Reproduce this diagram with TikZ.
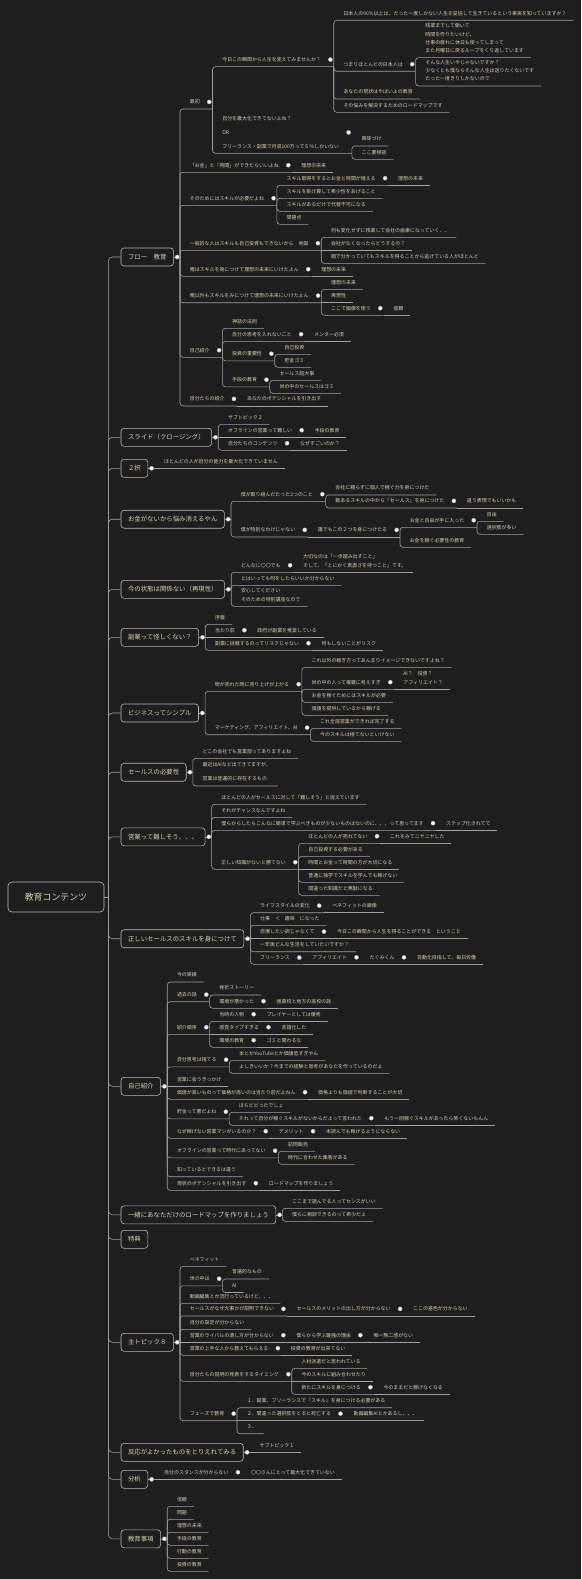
\documentclass[tikz,border=0pt]{standalone}
\usepackage{fontspec}
\setmainfont{Noto Sans CJK JP}
\usetikzlibrary{calc}
\definecolor{bgc}{HTML}{1E1E1F}
\definecolor{lnc}{HTML}{A0A0A0}
\definecolor{txc}{HTML}{D9D0AE}
\definecolor{bxc}{HTML}{B8B8B8}
\definecolor{dtc}{HTML}{EEF2FA}
\tikzset{
  conn/.style={draw=lnc, line width=0.6pt, rounded corners=3pt},
  trunk/.style={draw=lnc, line width=0.6pt, rounded corners=4pt},
  lbl/.style={text=txc, font=\fontsize{4.95}{8.2}\selectfont, inner sep=0pt, align=left, anchor=south west},
  topic/.style={draw=bxc, line width=0.6pt, rounded corners=3pt, text=txc, font=\fontsize{6.4}{8}\selectfont, inner xsep=7pt, inner ysep=0pt, minimum height=18pt, anchor=west},
  rootn/.style={draw=bxc, line width=0.6pt, rounded corners=4pt, text=txc, font=\fontsize{8.9}{10}\selectfont, minimum width=96pt, minimum height=30pt},
  dotm/.style={circle, fill=dtc, draw=lnc, line width=0.3pt, inner sep=0pt, minimum size=4.2pt},
}
% topic box
\newcommand\Tp[3]{\node[topic] (#1) at (120.7,#2) {#3};\draw[trunk] (rootj) |- (#1.west);}
\newcommand\Tj[1]{\coordinate (#1-j) at ($(#1.east)+(6.3,0)$);\draw[conn] (#1.east) -- (#1-j);\node[dotm] (#1-d) at ($(#1.east)+(3.5,0)$) {};}
% text of a child node
\newcommand\tn[4]{\node[lbl] (#1) at ($(#2 |- 0,#3)+(9.6,-4.6)$) {#4};}
% leaf (curved / straight)
\newcommand\lf[4]{\tn{#1}{#2}{#3}{#4}\coordinate (#1-e) at ($(#1.east |- 0,#3)+(6.7,0)$);\draw[conn] (#2) |- (#1-e);}
\newcommand\lfs[4]{\tn{#1}{#2}{#3}{#4}\coordinate (#1-e) at ($(#1.east |- 0,#3)+(6.7,0)$);\draw[conn] (#2) -- (#1-e);}
% branch node (curved / straight)
\newcommand\br[4]{\tn{#1}{#2}{#3}{#4}\coordinate (#1-j) at ($(#1.east |- 0,#3)+(12.6,0)$);\draw[conn] (#2) |- (#1-j);\node[dotm] (#1-d) at ($(#1.east)+(9.3,0)$) {};}
\newcommand\brs[4]{\tn{#1}{#2}{#3}{#4}\coordinate (#1-j) at ($(#1.east |- 0,#3)+(12.6,0)$);\draw[conn] (#2) -- (#1-j);\node[dotm] (#1-d) at ($(#1.east)+(9.3,0)$) {};}
\begin{document}
\begin{tikzpicture}[x=1pt,y=-1pt]
\fill[bgc] (0,0) rectangle (581,1579);
\useasboundingbox (0,0) rectangle (581,1579);
\node[rootn] (root) at (56,897) {教育コンテンツ};
\coordinate (rootj) at (108.3,897);
\draw[conn] (root.east) -- (rootj);

% ---------- フロー 教育
\Tp{fl}{257}{フロー　教育}\Tj{fl}
\br{a1}{fl-j}{109}{最初}
\br{a11}{a1-j}{66.7}{今日この瞬間から人生を変えてみませんか？}
\lf{a111}{a11-j}{20.3}{日本人の90％以上は、たった一度しかない人生を妥協して生きているという事実を知っていますか？}
\br{a112}{a11-j}{71.3}{つまりほとんどの日本人は}
\lf{a1121}{a112-j}{57.7}{残業までして働いて\\時間を作りたいけど、\\仕事の疲れに休日も使ってしまって\\また月曜日に戻るループをくり返しています}
\lf{a1122}{a112-j}{86}{そんな人生いやじゃないですか？\\少なくとも僕ならそんな人生は送りたくないです\\たった一度きりしかないので}
\lf{a113}{a11-j}{99}{あなたの現状はやばいよの教育}
\lf{a114}{a11-j}{112.3}{その悩みを解決するためのロードマップです}
\br{a12}{a1-j}{153.3}{自分を最大化できてないよね？\\[5.6pt]OR\\[5.6pt]フリーランス・副業で月収100万って５％しかいない}
\lf{a121}{a12-j}{146}{興味づけ}
\lf{a122}{a12-j}{159.3}{ここ要相談}
\br{a2}{fl-j}{172.3}{「お金」と「時間」ができたらいいよね}
\lfs{a21}{a2-j}{172.3}{理想の未来}
\br{a3}{fl-j}{205.3}{そのためにはスキルが必要だよね}
\br{a31}{a3-j}{185.3}{スキル取得をするとお金と時間が増える}
\lfs{a311}{a31-j}{185.3}{理想の未来}
\lf{a32}{a3-j}{198.3}{スキルを掛け算して希少性をあげること}
\lf{a33}{a3-j}{211.3}{スキルがあるだけで代替不可になる}
\lf{a34}{a3-j}{224.3}{問題点}
\br{a4}{fl-j}{250.3}{一般的な人はスキルも自己投資もできないから　地獄}
\lf{a41}{a4-j}{237.3}{何も変化せずに残業して会社の歯車になっていく、、}
\lfs{a42}{a4-j}{250.3}{会社がなくなったらどうするの？}
\lf{a43}{a4-j}{263.3}{頭で分かっていてもスキルを得ることから逃げている人がほとんど}
\br{a5}{fl-j}{276.3}{俺はスキルを身につけて理想の未来にいけたよん}
\lfs{a51}{a5-j}{276.3}{理想の未来}
\br{a6}{fl-j}{302.7}{俺以外もスキルをみにつけて理想の未来にいけたよん}
\lf{a61}{a6-j}{289.3}{理想の未来}
\lfs{a62}{a6-j}{302.7}{再現性}
\br{a63}{a6-j}{315.3}{ここで画像を使う}
\lfs{a631}{a63-j}{315.3}{信頼}
\br{a7}{fl-j}{357.3}{自己紹介}
\lf{a71}{a7-j}{328.3}{神話の法則}
\br{a72}{a7-j}{341.3}{自分の思考を入れないこと}
\lfs{a721}{a72-j}{341.3}{メンター必須}
\br{a73}{a7-j}{360.8}{投資の重要性}
\lf{a731}{a73-j}{354.3}{自己投資}
\lf{a732}{a73-j}{367.3}{貯金ゴミ}
\br{a74}{a7-j}{386.8}{手段の教育}
\lf{a741}{a74-j}{380.3}{セールス超大事}
\lf{a742}{a74-j}{393.3}{世の中のセールスはゴミ}
\br{a8}{fl-j}{406}{自分たちの紹介}
\lfs{a81}{a8-j}{406}{あなたのポテンシャルを引き出す}

% ---------- スライド
\Tp{sl}{437.3}{スライド（クロージング）}\Tj{sl}
\lf{b1}{sl-j}{424.3}{サブトピック２}
\brs{b2}{sl-j}{437.3}{オフラインの営業って難しい}
\lfs{b21}{b2-j}{437.3}{手段の教育}
\br{b3}{sl-j}{450.3}{自分たちのコンテンツ}
\lfs{b31}{b3-j}{450.3}{なぜすごいのか？}

% ---------- ２択
\Tp{ni}{468.3}{２択}\Tj{ni}
\lfs{c1}{ni-j}{468.3}{ほとんどの人が自分の能力を最大化できていません}

% ---------- お金がないから
\Tp{ok}{519.2}{お金がないから悩み消えるやん}\Tj{ok}
\br{d1}{ok-j}{501.3}{僕が取り組んだたった2つのこと}
\lf{d11}{d1-j}{495}{会社に頼らずに個人で稼ぐ力を身につけた}
\br{d12}{d1-j}{508}{数あるスキルの中から『セールス』を身につけた}
\lfs{d121}{d12-j}{508}{違う表現でもいいかも}
\br{d2}{ok-j}{537}{僕が特別なわけじゃない}
\brs{d21}{d2-j}{537}{誰でもこの２つを身につけたる}
\br{d211}{d21-j}{527.3}{お金と自由が手に入った}
\lf{d2111}{d211-j}{521.3}{自由}
\lf{d2112}{d211-j}{534.3}{選択肢が多い}
\lf{d212}{d21-j}{547.3}{お金を稼ぐ必要性の教育}

% ---------- 今の状態
\Tp{im}{589.3}{今の状態は関係ない（再現性）}\Tj{im}
\br{e1}{im-j}{572.3}{どんなに〇〇でも}
\lfs{e11}{e1-j}{572.3}{大切なのは「一歩踏み出すこと」\\そして、「とにかく素直さを持つこと」です。}
\lf{e2}{im-j}{585.3}{とはいっても何をしたらいいか分からない}
\lf{e3}{im-j}{606.3}{安心してください\\そのための特別講座なので}

% ---------- 副業
\Tp{fk}{637.3}{副業って怪しくない？}\Tj{fk}
\lf{f1}{fk-j}{624.3}{序盤}
\brs{f2}{fk-j}{637.3}{当たり前}
\lfs{f21}{f2-j}{637.3}{政府が副業を推奨している}
\br{f3}{fk-j}{650.3}{副業に挑戦するのってリスクじゃない}
\lfs{f31}{f3-j}{650.3}{何もしないことがリスク}

% ---------- ビジネス
\Tp{bz}{713}{ビジネスってシンプル}\Tj{bz}
\br{g1}{bz-j}{691.3}{物が売れた時に売り上げが上がる}
\lf{g11}{g1-j}{667.3}{これ以外の稼ぎ方ってあんまりイメージできないですよね？}
\br{g12}{g1-j}{689.3}{世の中の人って複雑に考えすぎ}
\lfs{g121}{g12-j}{689.3}{AI？　投資？\\アフィリエイト？}
\lf{g13}{g1-j}{702.3}{お金を稼ぐためにはスキルが必要}
\lf{g14}{g1-j}{715.3}{価値を提供しているから稼げる}
\br{g2}{bz-j}{734.7}{マーケティング、アフィリエイト、AI}
\lf{g21}{g2-j}{728.3}{これ全部営業ができれば完了する}
\lf{g22}{g2-j}{741.3}{今のスキルは捨てないといけない}

% ---------- セールスの必要性
\Tp{sn}{772.2}{セールスの必要性}\Tj{sn}
\lf{h1}{sn-j}{758.3}{どこの会社でも営業部ってありますよね}
\lf{h2}{sn-j}{786}{最近はAIなど出てきてますが、\\[5.9pt]営業は普遍的に存在するもの}

% ---------- 営業って難しそう
\Tp{ei}{836.8}{営業って難しそう、、、}\Tj{ei}
\lf{i1}{ei-j}{804.3}{ほとんどの人がセールスに対して「難しそう」と捉えています}
\lf{i2}{ei-j}{817.3}{それがチャンスなんですよね}
\br{i3}{ei-j}{830.3}{僕らからしたらこんなに簡単で学ぶべきものが少ないものはないのに、、、って思ってます}
\lfs{i31}{i3-j}{830.3}{ステップ化されてて}
\br{i4}{ei-j}{869.3}{正しい知識がないと勝てない}
\br{i41}{i4-j}{843.3}{ほとんどの人が売れてない}
\lfs{i411}{i41-j}{843.3}{これをみてニヤニヤした}
\lf{i42}{i4-j}{856.3}{自己投資する必要がある}
\lfs{i43}{i4-j}{869.3}{時間とお金って時間の方が大切になる}
\lf{i44}{i4-j}{882.3}{普通に独学でスキルを学んでも稼げない}
\lf{i45}{i4-j}{895.3}{間違った知識だと無駄になる}

% ---------- 正しいセールス
\Tp{ts}{938.7}{正しいセールスのスキルを身につけて}\Tj{ts}
\br{j1}{ts-j}{912.7}{ライフスタイルの変化}
\lfs{j11}{j1-j}{912.7}{ベネフィットの画像}
\lf{j2}{ts-j}{925.3}{仕事　＜　趣味　になった}
\brs{j3}{ts-j}{938.7}{自慢したい訳じゃなくて}
\lfs{j31}{j3-j}{938.7}{今日この瞬間から人生を得ることができる　ということ}
\lf{j4}{ts-j}{951.7}{一年後どんな生活をしていたいですか？}
\br{j5}{ts-j}{964.3}{フリーランス}
\brs{j51}{j5-j}{964.3}{アフィリエイト}
\brs{j52}{j51-j}{964.3}{たくみくん}
\lfs{j53}{j52-j}{964.3}{自動化目指して、毎日労働}

% ---------- 自己紹介
\Tp{js}{1086.3}{自己紹介}\Tj{js}
\lf{k1}{js-j}{982}{今の実績}
\br{k2}{js-j}{1001.7}{過去の話}
\lf{k21}{k2-j}{995}{挫折ストーリー}
\br{k22}{k2-j}{1008.3}{環境が悪かった}
\lfs{k221}{k22-j}{1008.3}{強豪校と地方の高校の話}
\br{k3}{js-j}{1034.3}{紹介順序}
\br{k31}{k3-j}{1021.3}{当時の人物}
\lfs{k311}{k31-j}{1021.3}{プレイヤーとしては優秀}
\brs{k32}{k3-j}{1034.3}{感覚タイプすぎる}
\lfs{k321}{k32-j}{1034.3}{言語化した}
\br{k33}{k3-j}{1047.3}{環境の教育}
\lfs{k331}{k33-j}{1047.3}{ゴミと関わるな}
\br{k4}{js-j}{1066.8}{自分思考は捨てる}
\lf{k41}{k4-j}{1060.3}{本とかYouTubeとか価値低すぎやん}
\lf{k42}{k4-j}{1073.3}{よしきいいか？今までの経験と思考があなたを作っているのだよ}
\lfs{k5}{js-j}{1086.3}{営業に会うきっかけ}
\br{k6}{js-j}{1099.3}{価値が高いものって価格が高いのは当たり前だよねん}
\lfs{k61}{k6-j}{1099.3}{価格よりも価値で判断することが大切}
\br{k7}{js-j}{1118.8}{貯金って悪だよね}
\lf{k71}{k7-j}{1112.3}{ほらビビったでしょ}
\br{k72}{k7-j}{1125.3}{それって自分が稼ぐスキルがないからだよって言われた}
\lfs{k721}{k72-j}{1125.3}{もう一回稼ぐスキルがあったら怖くないもんん}
\br{k8}{js-j}{1138.3}{なぜ稼げない営業マンがいるのか？}
\brs{k81}{k8-j}{1138.3}{デメリット}
\lfs{k811}{k81-j}{1138.3}{本読んでも稼げるようにならない}
\br{k9}{js-j}{1157.8}{オフラインの営業って時代にあってない}
\lf{k91}{k9-j}{1151.3}{訪問販売}
\lf{k92}{k9-j}{1164.3}{時代に合わせた集客がある}
\lf{k10}{js-j}{1176.7}{知っているとできるは違う}
\br{k11}{js-j}{1190.3}{現状のポテンシャルを引き出す}
\lfs{k111}{k11-j}{1190.3}{ロードマップを作りましょう}

% ---------- ロードマップ
\Tp{ro}{1214.8}{一緒にあなただけのロードマップを作りましょう}\Tj{ro}
\lf{l1}{ro-j}{1208.3}{ここまで読んでる人ってセンスがいい}
\lf{l2}{ro-j}{1221.3}{僕らに相談できるのって希少だよ}

% ---------- 特典
\Tp{tt}{1239.3}{特典}

% ---------- 主トピック８
\Tp{st}{1342.3}{主トピック８}\Tj{st}
\lf{m1}{st-j}{1266.3}{ベネフィット}
\br{m2}{st-j}{1285.8}{世の中は}
\lf{m21}{m2-j}{1279}{普遍的なもの}
\lf{m22}{m2-j}{1292.5}{AI}
\lf{m3}{st-j}{1303.3}{動画編集とか流行っているけど、、、}
\br{m4}{st-j}{1316}{セールスがなぜ大事かが説明できない}
\brs{m41}{m4-j}{1316}{セールスのメリットの出し方が分からない}
\lfs{m411}{m41-j}{1316}{ここの差色が分からない}
\lf{m5}{st-j}{1329.3}{自分の設定が分からない}
\brs{m6}{st-j}{1342.3}{営業のライバルの潰し方が分からない}
\brs{m61}{m6-j}{1342.3}{僕らから学ぶ最強の理由}
\lfs{m611}{m61-j}{1342.3}{唯一無二感がない}
\br{m7}{st-j}{1355.3}{営業の上手な人から教えてもらえる}
\lfs{m71}{m7-j}{1355.3}{投資の教育が出来てない}
\br{m8}{st-j}{1381.3}{自分たちの説明の発表をするタイミング}
\lf{m81}{m8-j}{1368.3}{人材派遣だと思われている}
\lfs{m82}{m8-j}{1381.3}{今のスキルに組み合わせたり}
\br{m83}{m8-j}{1394.3}{新たにスキルを身につける}
\lfs{m831}{m83-j}{1394.3}{今のままだと稼げなくなる}
\br{m9}{st-j}{1420.7}{フェーズで教育}
\lf{m91}{m9-j}{1407.7}{１、副業、フリーランスで『スキル』を身につける必要がある}
\brs{m92}{m9-j}{1420.7}{２、間違った選択肢をとると死亡する}
\lfs{m921}{m92-j}{1420.7}{動画編集AIとかあるし、、、}
\lf{m93}{m9-j}{1433.7}{３、}

% ---------- 反応
\Tp{hn}{1452.3}{反応がよかったものをとりえれてみる}\Tj{hn}
\lfs{n1}{hn-j}{1452.3}{サブトピック１}

% ---------- 分析
\Tp{bs}{1479.3}{分析}\Tj{bs}
\brs{o1}{bs-j}{1479.3}{自分のスタンスが分からない}
\lfs{o11}{o1-j}{1479.3}{〇〇さんにとって最大化できていない}

% ---------- 教育事項
\Tp{kj}{1538.8}{教育事項}\Tj{kj}
\lf{p1}{kj-j}{1506.3}{信頼}
\lf{p2}{kj-j}{1519.3}{問題}
\lf{p3}{kj-j}{1532.3}{理想の未来}
\lf{p4}{kj-j}{1545.3}{手段の教育}
\lf{p5}{kj-j}{1558.3}{行動の教育}
\lf{p6}{kj-j}{1571.3}{投資の教育}
\end{tikzpicture}
\end{document}
